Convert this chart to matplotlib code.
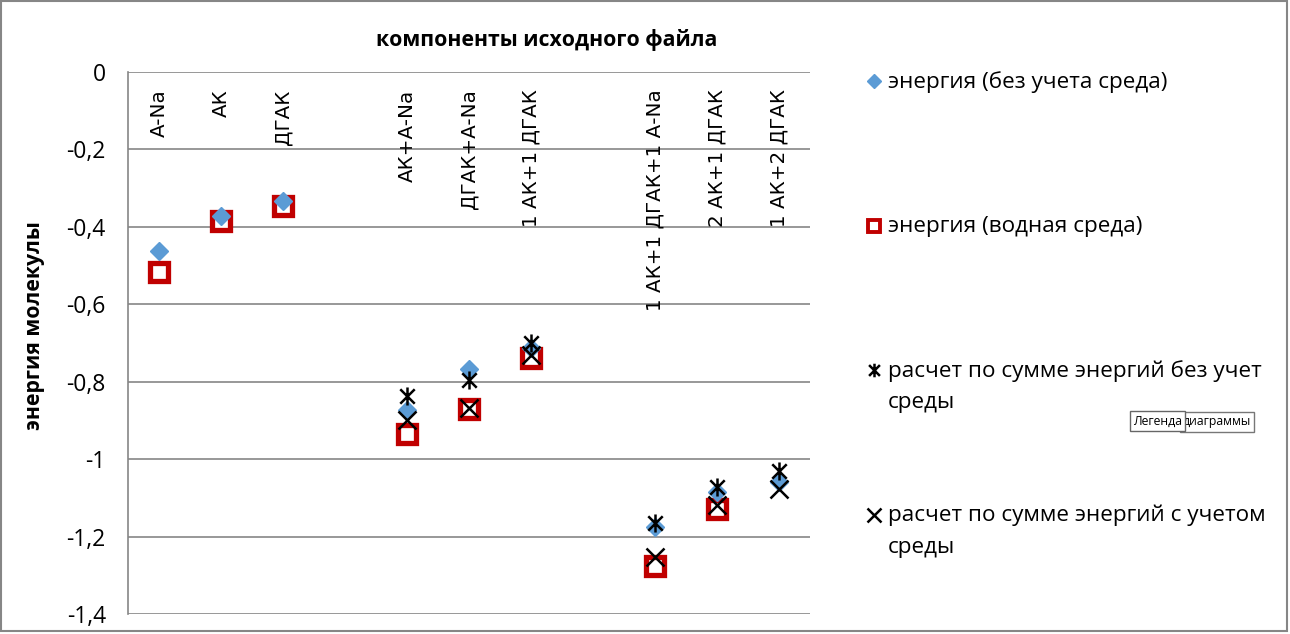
import matplotlib
matplotlib.use("Agg")
import matplotlib.pyplot as plt
from matplotlib.path import Path
from matplotlib.patches import Rectangle
from matplotlib.lines import Line2D
from matplotlib.ticker import FixedLocator, FuncFormatter
import numpy as np

categories = ["A-Na", "АК", "ДГАК", "", "АК+A-Na", "ДГАК+A-Na", "1 АК+1 ДГАК", "",
              "1 АК+1 ДГАК+1 А-Na", "2 АК+1 ДГАК", "1 АК+2 ДГАК"]
e_vacuum = [-0.462, -0.372, -0.333, None, -0.873, -0.767, -0.713, None, -1.175, -1.085, -1.059]
e_water = [-0.517, -0.385, -0.346, None, -0.935, -0.871, -0.739, None, -1.276, -1.129, None]
sum_vacuum = [None, None, None, None, -0.837, -0.796, -0.700, None, -1.165, -1.072, -1.030]
sum_water = [None, None, None, None, -0.899, -0.868, -0.731, None, -1.253, -1.119, -1.077]

series_names = ["энергия (без учета среда)", "энергия (водная среда)",
                "расчет по сумме энергий без учет\nсреды",
                "расчет по сумме энергий с учетом\nсреды"]
title = "компоненты исходного файла"
ylabel = "энергия молекулы"
yticks = [0, -0.2, -0.4, -0.6, -0.8, -1.0, -1.2, -1.4]

def arr(v):
    return np.array([np.nan if a is None else a for a in v], dtype=float)

star = Path([(0, -1), (0, 1), (-0.8, -0.8), (0.8, 0.8), (-0.8, 0.8), (0.8, -0.8)],
            [Path.MOVETO, Path.LINETO, Path.MOVETO, Path.LINETO, Path.MOVETO, Path.LINETO])

W, H = 1290, 634
fig = plt.figure(figsize=(W / 100, H / 100), dpi=100)
ax = fig.add_axes([128/W, 1-614/H, 682/W, 542/H])
x = np.arange(1, len(categories) + 1)

styles = [
    dict(marker="D", ms=9, color="#5B9BD5", mec="#5B9BD5"),
    dict(marker="s", ms=13, mfc="white", mec="#C00000", mew=3.8),
    dict(marker=star, ms=13, color="black", mew=1.8),
    dict(marker="x", ms=13, color="black", mew=1.8),
]
zords = [4, 3, 5, 5]
for vals, st, z in zip([e_vacuum, e_water, sum_vacuum, sum_water], styles, zords):
    ax.plot(x, arr(vals), ls="none", zorder=z, **st)

ax.set_xlim(0.5, len(categories) + 0.5)
ax.set_ylim(-1.4, 0)
ax.yaxis.set_major_locator(FixedLocator(yticks))
ax.yaxis.set_major_formatter(FuncFormatter(lambda v, p: ("%g" % round(v, 1)).replace(".", ",")))
ax.set_xticks([])
ax.tick_params(axis="y", length=0, pad=16, labelsize=16.5)
for lab in ax.get_yticklabels():
    lab.set_fontfamily("Open Sans")
ax.grid(axis="y", color="#868686", lw=1.2)
for s in ["top", "right", "bottom"]:
    ax.spines[s].set_visible(False)
ax.spines["left"].set_color("#868686")
ax.spines["left"].set_linewidth(1.2)

for xi, c in zip(x, categories):
    if c:
        ax.text(xi, -0.045, c, rotation=90, ha="center", va="top", fontsize=14.3,
                family="DejaVu Sans", zorder=2)

fig.text(547/W, 1-40/H, title, ha="center", va="center", fontsize=15.3, fontweight="bold",
         family="Open Sans")
fig.text(35/W, 1-326/H, ylabel, rotation=90, ha="center", va="center", fontsize=15.3,
         fontweight="bold", family="Open Sans")

# legend (manual placement)
leg_y = [81, 226, 370, 515]
leg_ms = [0.8, 0.7, 0.75, 0.75]
for name, st, ly, sc in zip(series_names, styles, leg_y, leg_ms):
    st2 = dict(st)
    st2["ms"] = st["ms"] * sc
    if st2["marker"] == "s":
        st2["mew"] = 2.8
    fig.add_artist(Line2D([874/W], [1-ly/H], transform=fig.transFigure, ls="none", **st2))
    fig.text(888/W, 1-(ly - 10)/H, name, ha="left", va="top", fontsize=16.2,
             family="Open Sans", linespacing=1.65)

fig.patches.append(Rectangle((0.5/W, 3/H), 1286/W, 630/H, transform=fig.transFigure,
                             fill=False, ec="#868686", lw=1.5))
# tooltip
fig.text(1183/W, 1-422/H, "диаграммы", ha="left", va="center", fontsize=8.8, family="Open Sans",
         bbox=dict(boxstyle="square,pad=0.25", fc="white", ec="#777777", lw=1))
fig.text(1133/W, 1-421/H, "Легенда", ha="left", va="center", fontsize=8.8, family="Open Sans",
         bbox=dict(boxstyle="square,pad=0.25", fc="white", ec="#666666", lw=1))

fig.savefig("out.png", dpi=100)
